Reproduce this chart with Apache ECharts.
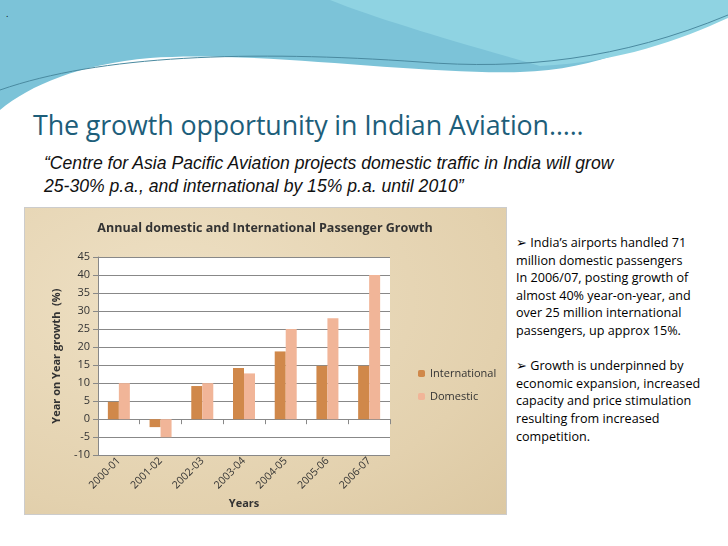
<!DOCTYPE html>
<html><head><meta charset="utf-8">
<script src="https://cdn.jsdelivr.net/npm/echarts@6/dist/echarts.min.js"></script>
<style>
body{margin:0;width:728px;height:546px;background:#fff;position:relative;overflow:hidden;font-family:"Open Sans",sans-serif}
#wave{position:absolute;left:0;top:0}
#title{position:absolute;left:33px;top:106px;font-size:26.8px;color:#1d5e7a;font-family:"Open Sans",sans-serif;white-space:nowrap;letter-spacing:-0.1px}
#quote{position:absolute;left:44px;top:152px;font-size:17.6px;line-height:23px;font-style:italic;font-family:"Liberation Sans",sans-serif;color:#111;white-space:nowrap}
#side{position:absolute;left:516px;top:234px;width:200px;font-size:12.6px;line-height:17.6px;color:#000;font-family:"Open Sans",sans-serif}
#chart{position:absolute;left:24px;top:207px;width:481px;height:306px;background:radial-gradient(ellipse at 30% 30%,#eee0c4,#e3d1ae 70%,#dcc8a2);border:1px solid #ccc}
</style></head><body>
<svg id="wave" width="728" height="120">
<path d="M0,0 L728,0 L728,15 C650,40 600,70 520,72 C420,75 250,50 150,58 C80,64 30,85 0,110 Z" fill="#7cc3d8"/>
<path d="M330,0 L728,0 L728,18 C680,40 620,62 540,66 C450,40 380,20 330,0 Z" fill="#8fd3e2"/>
<path d="M0,90 C100,55 250,50 420,62 C520,70 620,60 728,15" stroke="#4a8aa0" stroke-width="1" fill="none"/>
<text x="6" y="17" font-size="9">.</text>
</svg>
<div id="title">The growth opportunity in Indian Aviation…..</div>
<div id="quote">“Centre for Asia Pacific Aviation projects domestic traffic in India will grow<br>25-30% p.a., and international by 15% p.a. until 2010”</div>
<div id="side">&#10146; India’s airports handled 71<br>million domestic passengers<br>In 2006/07, posting growth of almost 40% year-on-year, and over 25 million international passengers, up approx 15%.<br><br>&#10146; Growth is underpinned by economic expansion, increased capacity and price stimulation resulting from increased competition.</div>
<div id="chart"></div>
<script>
const categories=["2000-01","2001-02","2002-03","2003-04","2004-05","2005-06","2006-07"];
const international=[4.8,-2.2,9.2,14.2,18.8,14.8,14.8];
const domestic=[10,-5,10,12.7,25,28,40];
const c=echarts.init(document.getElementById('chart'));
const tf="Open Sans";
c.setOption({
 animation:false,
 title:{text:"Annual domestic and International Passenger Growth",left:235,top:9,textAlign:'center',textStyle:{fontSize:12.5,fontWeight:'bold',color:'#333',fontFamily:tf}},
 legend:{orient:'vertical',left:388,top:155,itemWidth:7,itemHeight:7,itemGap:12,textStyle:{fontSize:11,color:'#333',fontFamily:tf},data:['International','Domestic']},
 grid:{left:73,right:116,top:49,bottom:53,backgroundColor:'#fff',show:true,borderWidth:0},
 xAxis:{type:'category',data:categories,name:'Years',nameLocation:'middle',nameGap:38,nameTextStyle:{fontSize:11,fontWeight:'bold',color:'#333',fontFamily:tf},
  axisLabel:{rotate:45,fontSize:10.5,color:'#333',fontFamily:tf,interval:0,margin:4},axisLine:{onZero:true,lineStyle:{color:'#888'}},axisTick:{show:true,lineStyle:{color:'#888'}}},
 yAxis:{type:'value',min:-10,max:45,interval:5,name:'Year on Year growth  (%)',nameLocation:'middle',nameGap:36,nameTextStyle:{fontSize:11,fontWeight:'bold',color:'#333',fontFamily:tf},
  axisLabel:{fontSize:11,color:'#333',fontFamily:tf},axisLine:{show:true,lineStyle:{color:'#888'}},axisTick:{show:true},splitLine:{lineStyle:{color:'#888'}}},
 series:[
  {name:'International',type:'bar',data:international,barWidth:11,barGap:'0%',itemStyle:{color:'#d0884a'}},
  {name:'Domestic',type:'bar',data:domestic,barWidth:11,itemStyle:{color:'#f1b598'}}
 ]
});
</script>
</body></html>
